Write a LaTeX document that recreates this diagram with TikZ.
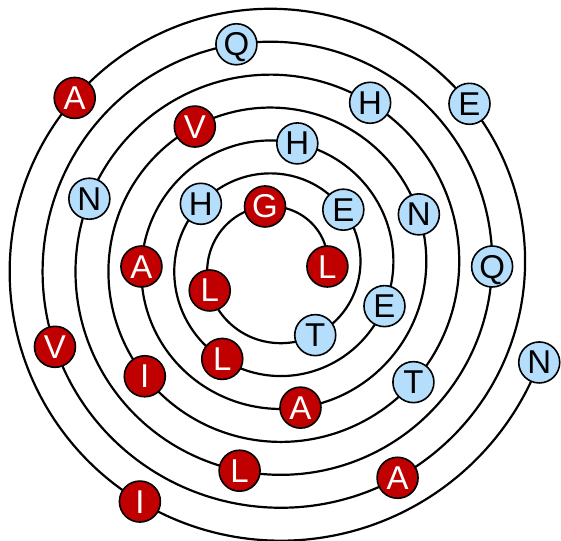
\documentclass[tikz,border=0pt]{standalone}
\usepackage{fontspec}
\setmainfont{Liberation Sans}
\definecolor{nodered}{RGB}{192,0,0}
\definecolor{nodeblue}{RGB}{180,222,252}
\colorlet{txtnodered}{white}
\colorlet{txtnodeblue}{black}
\begin{document}
\begin{tikzpicture}[x=1pt,y=-1pt,
  spiralline/.style={line width=2.2pt, line join=round},
  letter/.style={circle, draw=black, line width=1.6pt, minimum size=41pt,
    inner sep=0pt, text height=23pt, text depth=0pt,
    font=\fontsize{33}{33}\selectfont}]
\useasboundingbox (0,0) rectangle (561,540);
\draw[spiralline] plot[domain=0:2500, samples=700, smooth]
  ({275.6+(51.8+0.0915*\x)*cos(\x)}, {266.5-(51.8+0.0915*\x)*sin(\x)});
\foreach \k/\l/\f in {0/L/nodered, 1/G/nodered, 2/L/nodered, 3/T/nodeblue,
  4/E/nodeblue, 5/H/nodeblue, 6/L/nodered, 7/E/nodeblue, 8/H/nodeblue,
  9/A/nodered, 10/A/nodered, 11/N/nodeblue, 12/V/nodered, 13/I/nodered,
  14/T/nodeblue, 15/H/nodeblue, 16/N/nodeblue, 17/L/nodered, 18/Q/nodeblue,
  19/Q/nodeblue, 20/V/nodered, 21/A/nodered, 22/E/nodeblue, 23/A/nodered,
  24/I/nodered, 25/N/nodeblue}
  \node[letter, fill=\f, text=txt\f] (n\k) at
    ({275.6+(51.8+9.15*\k)*cos(100*\k)}, {266.5-(51.8+9.15*\k)*sin(100*\k)}) {\l};
\end{tikzpicture}
\end{document}
